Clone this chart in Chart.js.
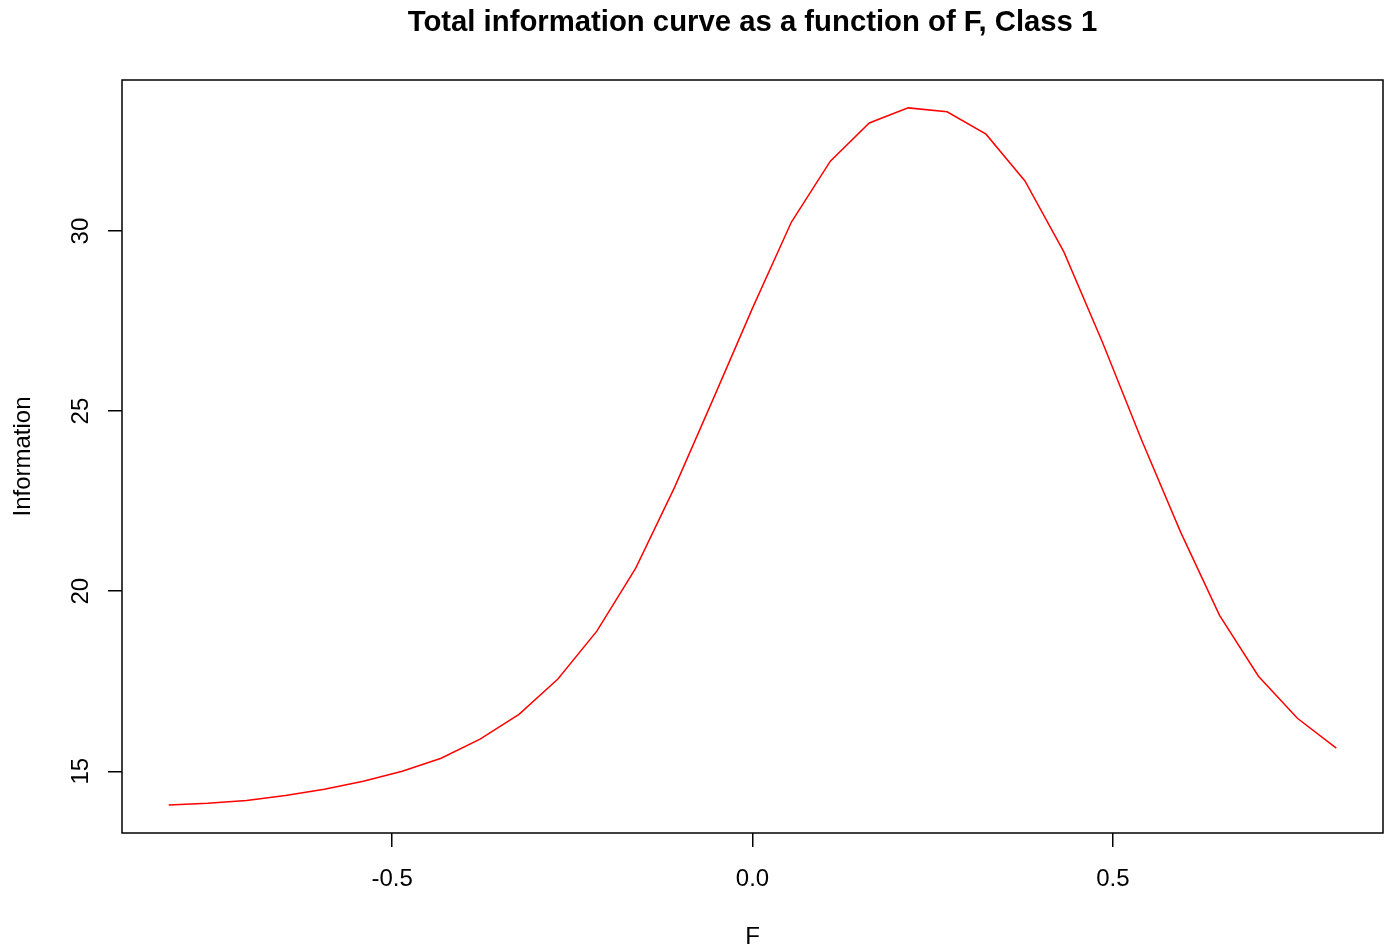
<!DOCTYPE html>
<html>
<head>
<meta charset="utf-8">
<title>Total information curve</title>
<script src="https://cdn.jsdelivr.net/npm/chart.js@4.4.0/dist/chart.umd.min.js"></script>
<style>
  html, body { margin: 0; padding: 0; background: #fff; }
  canvas { display: block; }
</style>
</head>
<body>
<canvas id="infoChart" width="1393" height="951"></canvas>
<script>
// giá trị F (trục hoành)
const fValues = [
  -0.81, -0.756, -0.702, -0.648, -0.594, -0.54, -0.486, -0.432, -0.378, -0.324,
  -0.27, -0.216, -0.162, -0.108, -0.054, 0.0, 0.054, 0.108, 0.162, 0.216,
  0.27, 0.324, 0.378, 0.432, 0.486, 0.54, 0.594, 0.648, 0.702, 0.756, 0.81
];

// tổng thông tin tương ứng
const infoValues = [
  14.06, 14.11, 14.19, 14.33, 14.50, 14.72, 15.00, 15.36, 15.89, 16.58,
  17.56, 18.89, 20.64, 22.89, 25.36, 27.86, 30.25, 31.94, 33.00, 33.42,
  33.31, 32.69, 31.39, 29.42, 26.89, 24.19, 21.64, 19.33, 17.64, 16.47, 15.64
];

// nhãn các vạch chia
const xTicks = [-0.5, 0.0, 0.5];
const yTicks = [15, 20, 25, 30];

const titleText = 'Total information curve as a function of F, Class 1';
const xLabel = 'F';
const yLabel = 'Information';

const fontFamily = '"Liberation Sans", Arial, Helvetica, sans-serif';

// khoảng trục kiểu R: mở rộng 4% mỗi bên
function padRange(arr) {
    let lo = Math.min(...arr), hi = Math.max(...arr);
    let d = (hi - lo) * 0.04;
    return [lo - d, hi + d];
}
const xRange = padRange(fValues);
const yRange = padRange(infoValues);

// vẽ khung hộp quanh vùng biểu đồ và tiêu đề căn giữa vùng vẽ (giống R)
const boxPlugin = {
    id: 'boxPlugin',
    afterDraw(chart) {
        const { ctx, chartArea } = chart;
        ctx.save();
        ctx.strokeStyle = '#000';
        ctx.lineWidth = 1.5;
        ctx.strokeRect(chartArea.left, chartArea.top,
            chartArea.right - chartArea.left, chartArea.bottom - chartArea.top);

        // tiêu đề
        ctx.fillStyle = '#000';
        ctx.font = 'bold 29.3px ' + fontFamily;
        ctx.textAlign = 'center';
        ctx.textBaseline = 'middle';
        ctx.fillText(titleText, (chartArea.left + chartArea.right) / 2, 23);
        ctx.restore();
    }
};

const data = {
    datasets: [{
        label: 'Information',
        data: fValues.map((f, i) => ({ x: f, y: infoValues[i] })),
        borderColor: '#ff0000',
        borderWidth: 1.5,
        pointRadius: 0,
        tension: 0,
        fill: false
    }]
};

const config = {
    type: 'line',
    data: data,
    options: {
        responsive: false,
        animation: false,
        devicePixelRatio: 1,
        layout: { padding: { left: 0, right: 10, top: 80, bottom: 0 } },
        plugins: {
            legend: { display: false },
            tooltip: { enabled: false },
            title: { display: false }
        },
        scales: {
            x: {
                type: 'linear',
                min: xRange[0],
                max: xRange[1],
                afterBuildTicks: (scale) => { scale.ticks = xTicks.map(v => ({ value: v })); },
                afterFit: (scale) => { scale.height = 118; },
                border: { display: false },
                grid: { drawOnChartArea: false, drawTicks: true, tickLength: 14, color: '#000', lineWidth: 1.5 },
                ticks: {
                    color: '#000',
                    font: { family: fontFamily, size: 24 },
                    padding: 18,
                    maxRotation: 0,
                    callback: (v) => v.toFixed(1)
                },
                title: {
                    display: true,
                    text: xLabel,
                    color: '#000',
                    font: { family: fontFamily, size: 24, lineHeight: 1.1 },
                    padding: { top: 0, bottom: 0 }
                }
            },
            y: {
                type: 'linear',
                min: yRange[0],
                max: yRange[1],
                afterBuildTicks: (scale) => { scale.ticks = yTicks.map(v => ({ value: v })); },
                afterFit: (scale) => { scale.width = 122; },
                border: { display: false },
                grid: { drawOnChartArea: false, drawTicks: true, tickLength: 14, color: '#000', lineWidth: 1.5 },
                ticks: {
                    color: '#000',
                    font: { family: fontFamily, size: 24 },
                    padding: 13,
                    minRotation: 90,
                    maxRotation: 90,
                    crossAlign: 'center',
                    callback: (v) => String(v)
                },
                title: {
                    display: true,
                    text: yLabel,
                    color: '#000',
                    font: { family: fontFamily, size: 24 },
                    padding: { top: 9, bottom: 0 }
                }
            }
        }
    },
    plugins: [boxPlugin]
};

new Chart(document.getElementById('infoChart'), config);
</script>
</body>
</html>
